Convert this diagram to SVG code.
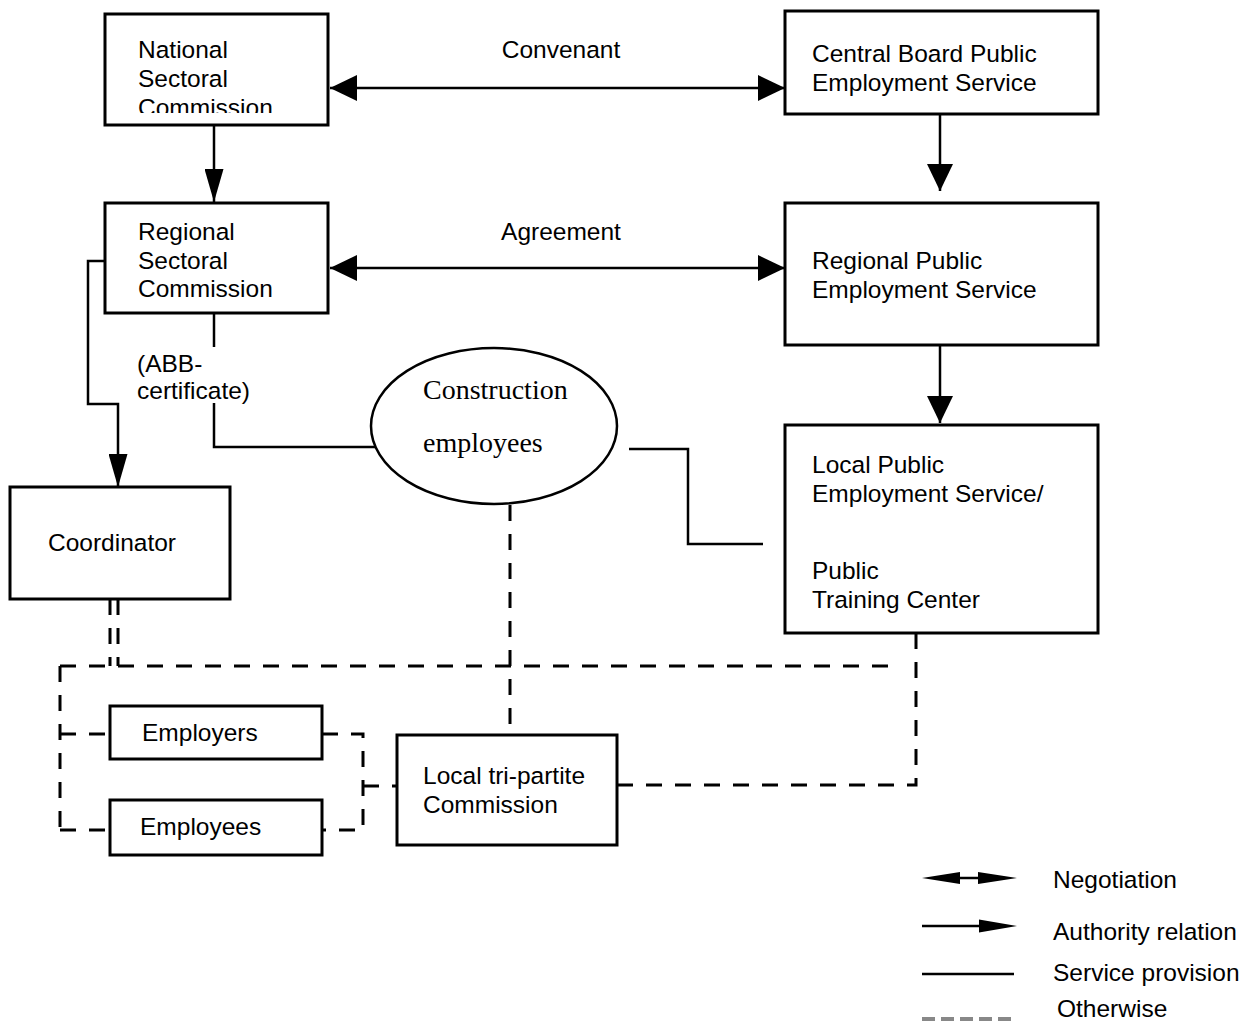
<svg xmlns="http://www.w3.org/2000/svg" width="1252" height="1021" viewBox="0 0 1252 1021">
<style>
.box{fill:#fff;stroke:#000;stroke-width:3}
.ln{fill:none;stroke:#000;stroke-width:2.5}
.dash{fill:none;stroke:#000;stroke-width:3;stroke-dasharray:16 13}
.t{font-family:"Liberation Sans",Arial,sans-serif;font-size:24.5px;fill:#000}
.tr{font-family:"Liberation Serif","Times New Roman",serif;font-size:28px;fill:#000}
</style>
<defs>
<marker id="big" viewBox="0 0 27 26" refX="27" refY="13" markerWidth="27" markerHeight="26" markerUnits="userSpaceOnUse" orient="auto-start-reverse"><path d="M0,0 L27,13 L0,26 z" fill="#000"/></marker>
<marker id="slim" viewBox="0 0 33 19" refX="33" refY="9.5" markerWidth="33" markerHeight="19" markerUnits="userSpaceOnUse" orient="auto-start-reverse"><path d="M0,0 L33,9.5 L0,19 z" fill="#000"/></marker>
<clipPath id="natclip"><rect x="105" y="14" width="223" height="99"/></clipPath>
</defs>

<g id="connectors">
<line class="ln" x1="330" y1="88" x2="785" y2="88" marker-start="url(#big)" marker-end="url(#big)"/>
<line class="ln" x1="330" y1="268" x2="785" y2="268" marker-start="url(#big)" marker-end="url(#big)"/>
<line class="ln" x1="214" y1="125" x2="214" y2="202" marker-end="url(#slim)"/>
<line class="ln" x1="940" y1="114" x2="940" y2="191" marker-end="url(#big)"/>
<line class="ln" x1="940" y1="345" x2="940" y2="423" marker-end="url(#big)"/>
<path class="ln" d="M105,261 H88 V404 H118 V487" marker-end="url(#slim)"/>
<path class="ln" d="M214,313 V347"/>
<path class="ln" d="M214,403 V447 H376"/>
<path class="ln" d="M629,449 H688 V544 H763"/>
<path class="dash" d="M510,505 V735"/>
<path class="dash" d="M110,599 V666"/>
<path class="dash" d="M118,599 V666"/>
<path class="dash" d="M60,666 H900"/>
<path class="dash" d="M60,666 V830"/>
<path class="dash" d="M60,734 H110"/>
<path class="dash" d="M60,830 H110"/>
<path class="dash" d="M322,734 H363 V830 H322"/>
<path class="dash" d="M363,786 H397"/>
<path class="dash" d="M916,633 V785 H617"/>
</g>

<g id="label-convenant"><text class="t" x="561" y="58" text-anchor="middle">Convenant</text></g>
<g id="label-agreement"><text class="t" x="561" y="240" text-anchor="middle">Agreement</text></g>
<g id="label-abb"><text class="t" x="137" y="372">(ABB-</text><text class="t" x="137" y="399">certificate)</text></g>

<g id="national">
<rect class="box" x="105" y="14" width="223" height="111"/>
<g clip-path="url(#natclip)">
<text class="t" x="138" y="58">National</text>
<text class="t" x="138" y="87">Sectoral</text>
<text class="t" x="138" y="116">Commission</text>
</g>
</g>

<g id="regional-sectoral">
<rect class="box" x="105" y="203" width="223" height="110"/>
<text class="t" x="138" y="240">Regional</text>
<text class="t" x="138" y="269">Sectoral</text>
<text class="t" x="138" y="297">Commission</text>
</g>

<g id="central-board">
<rect class="box" x="785" y="11" width="313" height="103"/>
<text class="t" x="812" y="62">Central Board Public</text>
<text class="t" x="812" y="91">Employment Service</text>
</g>

<g id="regional-pes">
<rect class="box" x="785" y="203" width="313" height="142"/>
<text class="t" x="812" y="269">Regional Public</text>
<text class="t" x="812" y="298">Employment Service</text>
</g>

<g id="local-pes">
<rect class="box" x="785" y="425" width="313" height="208"/>
<text class="t" x="812" y="473">Local Public</text>
<text class="t" x="812" y="502">Employment Service/</text>
<text class="t" x="812" y="579">Public</text>
<text class="t" x="812" y="608">Training Center</text>
</g>

<g id="construction">
<ellipse cx="494" cy="426" rx="123" ry="78" fill="#fff" stroke="#000" stroke-width="2.5"/>
<text class="tr" x="423" y="399">Construction</text>
<text class="tr" x="423" y="452">employees</text>
</g>

<g id="coordinator">
<rect class="box" x="10" y="487" width="220" height="112"/>
<text class="t" x="48" y="551">Coordinator</text>
</g>

<g id="employers">
<rect class="box" x="110" y="706" width="212" height="53"/>
<text class="t" x="142" y="741">Employers</text>
</g>

<g id="employees">
<rect class="box" x="110" y="800" width="212" height="55"/>
<text class="t" x="140" y="835">Employees</text>
</g>

<g id="tripartite">
<rect class="box" x="397" y="735" width="220" height="110"/>
<text class="t" x="423" y="784">Local tri-partite</text>
<text class="t" x="423" y="813">Commission</text>
</g>

<g id="legend">
<path d="M922,878 L960,872 L960,884 z" fill="#000"/>
<line x1="958" y1="878" x2="980" y2="878" stroke="#000" stroke-width="2.5"/>
<path d="M1017,878 L978,872 L978,884 z" fill="#000"/>
<text class="t" x="1053" y="888">Negotiation</text>
<line x1="922" y1="926" x2="982" y2="926" stroke="#000" stroke-width="2.5"/>
<path d="M1017,926 L979,919.5 L979,932.5 z" fill="#000"/>
<text class="t" x="1053" y="940">Authority relation</text>
<line x1="922" y1="974" x2="1014" y2="974" stroke="#000" stroke-width="2.5"/>
<text class="t" x="1053" y="981">Service provision</text>
<line x1="922" y1="1019" x2="1014" y2="1019" stroke="#888" stroke-width="4" stroke-dasharray="13 6"/>
<text class="t" x="1057" y="1017">Otherwise</text>
</g>
</svg>
